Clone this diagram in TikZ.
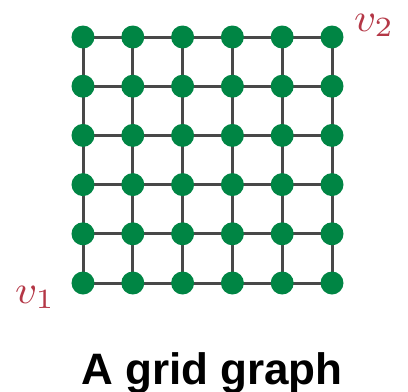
\documentclass[tikz,border=0pt]{standalone}
\usepackage{fontspec}
\usepackage{graphicx}
\setmainfont{Liberation Sans}
\definecolor{nodegreen}{RGB}{0,133,68}
\definecolor{edgegray}{RGB}{72,72,72}
\definecolor{labelred}{RGB}{180,55,70}
\begin{document}
\begin{tikzpicture}[x=1bp,y=-1bp,
  vert/.style={circle,fill=nodegreen,inner sep=0pt,minimum size=23bp},
  edge/.style={draw=edgegray,line width=3bp},
  lab/.style={text=labelred,inner sep=0pt}]
\useasboundingbox (0,0) rectangle (408,392);
\foreach \i in {0,...,5}{
  \foreach \j in {0,...,5}{
    \coordinate (c-\i-\j) at ({83+49.8*\i},{37+49.2*\j});
  }
}
\foreach \i in {0,...,5}{
  \foreach \j in {0,...,4}{
    \pgfmathtruncatemacro{\jn}{\j+1}
    \draw[edge] (c-\i-\j) -- (c-\i-\jn);
    \draw[edge] (c-\j-\i) -- (c-\jn-\i);
  }
}
\foreach \i in {0,...,5}{
  \foreach \j in {0,...,5}{
    \node[vert] (n-\i-\j) at (c-\i-\j) {};
  }
}
\node[lab,anchor=base west] (v2) at (354,31) {\scalebox{4.3}[4]{$v_2$}};
\node[lab,anchor=base west] (v1) at (15,303) {\scalebox{4.3}[4]{$v_1$}};
\node[anchor=base,inner sep=0pt] (title) at (212,384) {\fontsize{44bp}{52bp}\selectfont\bfseries A grid graph};
\end{tikzpicture}
\end{document}
